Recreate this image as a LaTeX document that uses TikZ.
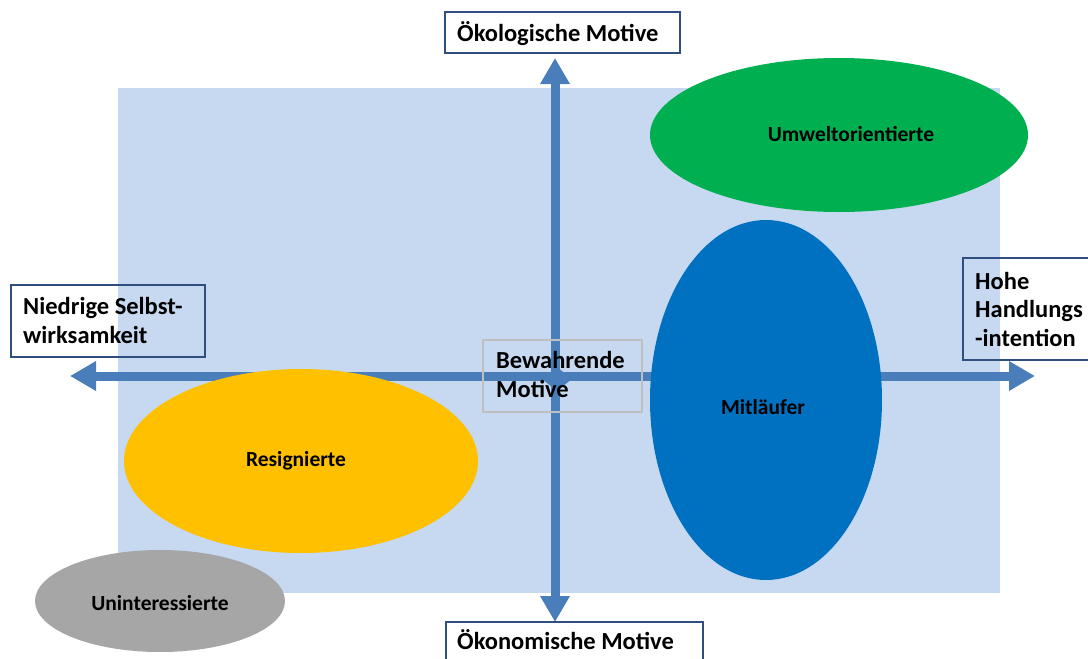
\documentclass[tikz,border=0pt]{standalone}
\usepackage{fontspec}
\setmainfont{Carlito}
\usetikzlibrary{arrows.meta,shapes.geometric}
\definecolor{bgblue}{HTML}{C6D9F1}
\definecolor{axisblue}{HTML}{4A7EBB}
\definecolor{boxblue}{HTML}{2F4F80}
\definecolor{ggreen}{HTML}{00B050}
\definecolor{mblue}{HTML}{0070C0}
\definecolor{ryellow}{HTML}{FFC000}
\definecolor{ugray}{HTML}{A6A6A6}
\tikzset{
  axisline/.style={draw=axisblue,line width=9pt,-{Triangle[length=26pt,width=28pt]}},
  blob/.style={ellipse,draw=none,inner sep=0pt},
  blobtext/.style={inner sep=0pt,font=\fontsize{21.5}{24}\selectfont\bfseries},
  labelbox/.style={draw=boxblue,line width=1.5pt},
  boxtext/.style={anchor=base west,inner sep=0pt,align=left,font=\fontsize{24.5}{28.5}\selectfont\bfseries},
}
\begin{document}
\begin{tikzpicture}[x=1pt,y=-1pt]
\useasboundingbox (0,0) rectangle (1088,659);
\clip (0,0) rectangle (1088,659);
% background
\fill[bgblue] (118,88) rectangle (1000,593);
% axes
\coordinate (C) at (555,376);
\coordinate (T) at (555,58);
\coordinate (B) at (555,622);
\coordinate (Lt) at (70,376);
\coordinate (Rt) at (1035,376);
\draw[axisline] (C) -- (T);
\draw[axisline] (C) -- (B);
\draw[axisline] (C) -- (Lt);
\draw[axisline] (C) -- (Rt);
\node[diamond,fill=axisblue,minimum width=30pt,minimum height=24pt,inner sep=0pt] (cd) at (557,379) {};
% ellipses
\node[blob,fill=ggreen,minimum width=378pt,minimum height=154pt] (umw) at (839,135) {};
\node[blobtext] (umwt) at (851,134) {Umweltorientierte};
\node[blob,fill=mblue,minimum width=232pt,minimum height=360pt] (mit) at (766,400) {};
\node[blobtext] (mitt) at (763,407) {Mitläufer};
\node[blob,fill=ryellow,minimum width=354pt,minimum height=184pt] (res) at (301,461) {};
\node[blobtext] (rest) at (296,461) {Resignierte};
\node[blob,fill=ugray,minimum width=250pt,minimum height=102pt] (uni) at (160,601) {};
\node[blobtext] (unit) at (160,603) {Uninteressierte};
% boxes
\draw[labelbox,fill=white] (445,12) rectangle (680,53);
\node[boxtext] (oek) at (457,41) {Ökologische Motive};
\draw[labelbox,fill=white] (446,622) rectangle (703,680);
\node[boxtext] (oko) at (457,649) {Ökonomische Motive};
\draw[labelbox] (11,285) rectangle (205,357);
\node[boxtext] (nied) at (23,343) {Niedrige Selbst-\\wirksamkeit};
\draw[labelbox] (963,258) rectangle (1100,360);
\node[boxtext] (hohe) at (975,346) {Hohe\\Handlungs\\-intention};
\draw[draw=black!25,line width=1.5pt] (483,340) rectangle (642,412);
\node[boxtext] (bew) at (496,397) {Bewahrende\\Motive};
\end{tikzpicture}
\end{document}
